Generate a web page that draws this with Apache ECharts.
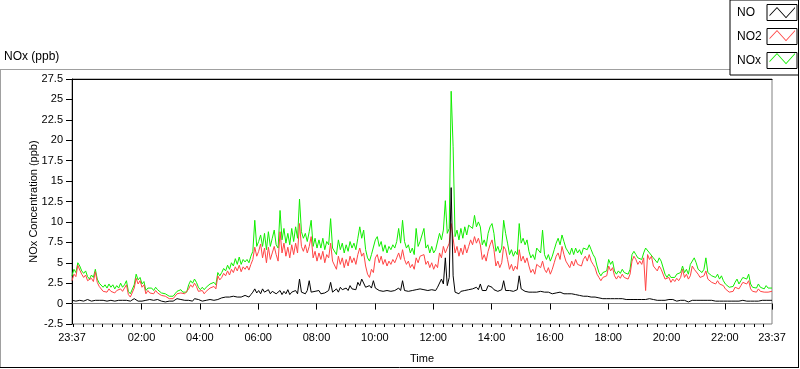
<!DOCTYPE html>
<html><head><meta charset="utf-8">
<script src="https://cdn.jsdelivr.net/npm/echarts@6/dist/echarts.min.js"></script>
<style>html,body{margin:0;padding:0;background:#fff}#c{width:800px;height:369px}</style>
</head><body><div id="c"></div>
<script>
// ---- data (sampled every 4 minutes from 23:37 to 23:37 next day) ----
const startTime = '23:37';
const spanMinutes = 1440;
const sampleStepMin = 4;
const seriesNames = ['NO', 'NO2', 'NOx'];
const tickLabels = ['23:37','02:00','04:00','06:00','08:00','10:00','12:00','14:00','16:00','18:00','20:00','22:00','23:37'];
const yTicks = { min: -2.5, max: 27.5, step: 2.5 };

const noValues = [
0.4,0.5,0.3,0.5,0.4,0.5,0.3,0.4,0.5,0.4,0.3,0.5,0.4,0.5,0.4,
0.5,0.4,0.5,0.3,0.5,0.4,0.5,0.3,0.5,0.4,0.6,0.4,0.5,0.4,0.3,
0.3,0.5,0.6,0.4,0.3,0.5,0.3,0.2,0.4,0.3,0.5,0.3,0.4,0.3,0.5,
0.4,0.3,0.5,0.2,0.4,0.3,0.5,0.3,0.4,0.6,0.4,0.5,0.3,0.4,0.5,
0.4,0.5,0.3,0.6,0.4,0.5,0.4,0.3,0.5,0.4,0.3,0.5,0.6,0.4,0.5,
0.5,0.6,0.7,0.6,0.8,0.6,0.8,0.7,0.9,0.7,0.8,1.0,0.8,0.9,1.0,
1.0,0.8,1.1,1.4,1.8,1.3,1.6,1.2,1.8,1.4,1.3,1.7,1.2,1.5,1.4,
1.2,1.0,1.6,1.1,1.5,1.2,1.7,1.1,1.4,1.3,1.6,1.2,3.0,1.4,1.3,
1.2,1.6,2.8,1.4,1.2,1.5,1.3,1.6,1.2,1.4,1.3,1.5,1.6,2.6,1.4,
1.6,1.8,1.4,2.0,1.7,1.5,1.9,1.6,2.2,1.8,2.0,1.7,2.6,2.2,3.0,
3.2,2.0,1.8,2.2,1.9,2.8,1.9,2.1,1.6,1.8,1.5,1.7,1.6,1.8,1.5,
1.7,1.6,1.8,1.9,1.6,2.8,1.6,1.8,1.5,1.7,1.6,1.8,1.7,1.6,1.8,
1.8,1.7,1.9,1.6,1.8,1.7,1.9,1.6,2.0,2.2,3.0,2.4,5.6,2.2,3.2,
14.2,3.4,1.4,1.6,1.2,1.5,1.3,1.6,1.4,1.7,1.5,1.8,1.6,2.0,1.7,
2.4,1.6,1.8,1.6,2.2,2.4,2.0,1.7,1.6,1.5,1.6,1.7,2.8,1.6,1.7,
1.6,1.7,1.5,1.6,1.7,3.4,1.8,1.6,1.5,1.6,1.4,1.6,1.4,1.5,1.4,
1.4,1.5,1.3,1.4,1.2,1.4,1.3,1.2,1.4,1.3,1.2,1.4,1.3,1.2,1.3,
1.2,1.1,1.2,1.0,1.1,1.2,1.0,1.1,0.9,1.0,0.9,1.0,0.8,0.9,0.8,
0.8,0.7,0.8,0.6,0.7,0.6,0.7,0.6,0.5,0.6,0.5,0.6,0.5,0.6,0.5,
0.5,0.6,0.5,0.6,0.5,0.6,0.5,0.7,0.5,0.6,0.5,0.4,0.6,0.5,0.5,
0.5,0.4,0.5,0.4,0.5,0.4,0.3,0.5,0.4,0.5,0.4,0.3,0.5,0.4,0.5,
0.4,0.3,0.2,0.3,0.4,0.3,0.4,0.3,0.4,0.3,0.4,0.3,0.4,0.3,0.4,
0.4,0.3,0.4,0.3,0.4,0.3,0.4,0.3,0.4,0.3,0.4,0.3,0.4,0.3,0.4,
0.4,0.5,0.3,0.4,0.3,0.4,0.3,0.4,0.3,0.4,0.4,0.3,0.4,0.3,0.4,
0.4];

const no2Values = [
2.8,3.6,3.3,4.7,4.1,3.6,3.2,3.5,2.8,2.6,3.1,2.7,3.9,2.6,2.1,
1.9,1.5,1.7,1.4,1.8,1.5,1.7,1.3,1.6,1.4,1.8,1.5,1.7,2.3,1.1,
0.8,1.0,1.9,3.1,2.4,2.8,2.0,2.3,1.2,1.6,1.3,1.5,1.2,1.6,1.3,
1.3,1.0,0.8,0.9,0.7,0.6,0.8,0.6,0.9,1.2,1.0,1.3,1.1,1.2,1.0,
1.8,2.3,2.0,2.5,2.1,1.5,1.3,1.6,1.2,1.5,1.4,1.9,1.7,2.1,1.8,
3.4,2.9,3.2,3.7,3.4,4.0,3.5,4.2,3.8,4.5,4.0,4.7,3.9,4.5,4.2,
4.6,4.1,4.8,5.4,6.9,5.8,6.4,7.3,5.6,6.8,5.0,6.9,5.4,6.2,7.0,
6.0,5.2,8.8,6.2,7.4,5.8,6.9,5.6,7.2,6.0,7.4,6.2,9.8,7.0,6.4,
7.2,6.2,7.0,8.2,5.6,6.4,5.2,6.2,5.4,6.4,5.0,6.0,5.6,7.4,5.2,
5.2,4.2,5.8,4.8,5.6,4.4,5.4,4.6,5.8,5.0,5.6,4.8,6.0,6.8,5.8,
6.2,4.6,3.6,3.2,4.2,3.8,5.6,6.0,5.0,5.8,4.8,5.4,4.6,5.2,4.8,
5.4,5.0,5.6,6.2,5.4,6.6,5.4,4.8,5.2,4.4,4.8,4.2,5.6,5.0,5.8,
5.8,6.0,4.8,5.2,4.4,5.0,4.2,4.8,4.4,6.2,5.6,7.0,6.2,6.8,7.4,
9.8,8.0,6.2,7.0,5.8,6.8,6.0,7.2,6.2,7.0,7.8,7.2,8.2,7.4,8.0,
7.2,5.4,6.0,5.2,6.4,7.2,7.8,6.6,4.6,5.2,4.4,5.0,7.0,6.6,5.4,
4.2,4.8,4.0,4.6,4.2,6.6,5.2,5.8,5.0,5.6,4.6,3.8,4.2,3.6,4.8,
5.0,4.4,5.2,4.2,3.8,4.4,3.6,4.2,5.0,5.8,6.2,5.4,7.0,6.0,5.2,
5.0,4.4,5.2,4.6,5.4,4.8,5.0,4.6,5.4,5.8,5.2,6.0,5.2,4.8,4.4,
3.6,3.2,2.8,3.2,3.0,3.4,4.6,4.0,4.4,3.4,3.0,3.4,3.1,3.6,3.2,
3.4,3.0,3.6,5.2,5.8,5.4,4.8,5.2,4.8,5.6,1.6,6.0,5.4,5.8,4.6,
4.4,4.0,4.6,4.2,4.4,3.0,2.8,3.2,2.6,3.0,2.7,3.1,2.8,3.2,4.2,
3.2,3.6,3.0,3.4,4.6,4.2,4.4,3.6,3.2,3.0,3.4,4.0,3.0,3.2,2.6,
2.8,2.4,2.8,2.4,2.6,2.2,1.8,1.6,1.4,1.6,1.5,2.0,2.2,1.8,2.2,
2.6,2.8,2.4,2.8,1.8,1.5,1.7,1.4,1.8,1.5,1.6,1.4,1.6,1.4,1.5,
1.5];

const noxValues = [
3.4,4.2,3.8,5.0,4.6,4.0,3.7,4.0,3.3,3.0,3.5,3.2,4.2,3.0,2.5,
2.5,2.0,2.3,1.9,2.4,2.0,2.3,1.8,2.2,1.9,2.5,2.0,2.3,2.8,1.5,
1.2,1.4,2.3,3.6,2.9,3.2,2.4,2.7,1.6,1.9,1.7,1.9,1.6,2.0,1.7,
1.6,1.3,1.1,1.2,1.0,0.9,1.1,0.9,1.2,1.5,1.4,1.7,1.4,1.6,1.4,
2.3,2.8,2.5,3.0,2.6,2.0,1.7,2.0,1.7,2.0,1.9,2.4,2.2,2.6,2.3,
3.8,3.4,3.8,4.3,4.0,4.7,4.2,5.0,4.6,5.5,4.8,5.7,4.8,5.4,5.1,
5.4,5.0,5.8,6.4,10.2,7.0,7.6,8.4,7.0,8.6,6.6,8.8,7.0,8.0,9.0,
7.2,6.8,11.4,7.8,9.2,7.4,8.6,7.2,9.2,7.6,9.4,8.0,12.8,8.8,8.0,
8.6,7.6,8.8,10.2,7.0,8.0,6.8,7.8,6.8,8.0,6.6,7.6,7.2,10.4,6.8,
7.0,6.0,7.8,6.6,7.4,6.2,7.2,6.4,7.6,6.8,7.4,6.6,8.0,9.4,8.0,
9.0,6.6,5.6,5.2,6.0,5.8,7.8,8.2,7.0,7.6,6.4,7.2,6.2,7.0,6.6,
7.2,6.8,7.6,9.2,7.4,10.2,7.6,6.8,7.2,6.2,6.8,6.0,9.2,7.0,7.6,
7.4,9.2,6.8,7.2,6.2,7.0,6.2,6.6,6.4,8.6,7.8,9.0,12.6,8.6,9.2,
26.0,19.2,8.2,9.0,7.8,9.2,8.0,9.4,8.4,9.6,9.8,9.2,10.8,9.4,10.0,
9.4,7.2,7.8,7.0,8.6,9.4,9.8,8.6,6.4,7.0,6.2,6.8,10.2,8.6,7.4,
6.0,6.6,5.8,6.4,6.0,9.8,7.4,8.0,7.2,7.8,6.4,5.6,6.0,5.4,6.8,
7.0,6.2,9.0,6.0,5.4,6.0,5.2,5.8,6.6,7.4,8.0,7.2,8.4,7.6,6.8,
6.4,6.0,6.8,6.0,6.8,6.2,6.6,6.0,6.8,7.0,6.6,7.2,6.6,6.0,5.6,
4.6,3.8,3.4,3.8,3.6,4.0,5.4,4.8,5.2,4.0,3.6,4.0,3.7,4.2,3.8,
4.0,3.6,4.2,6.0,6.4,6.0,5.6,5.8,5.4,6.2,6.8,6.6,6.2,6.4,5.6,
5.4,5.0,5.6,5.2,5.4,3.6,3.2,3.6,3.2,3.4,3.2,3.6,3.4,3.8,4.6,
3.8,4.2,3.6,4.8,5.0,5.6,5.0,4.2,4.0,3.8,4.2,5.6,3.8,3.8,3.4,
3.4,3.2,3.6,3.0,3.4,2.8,2.4,2.2,2.0,2.2,2.1,2.6,3.0,2.4,2.8,
3.2,3.4,3.0,3.6,2.4,2.0,2.2,1.9,2.4,2.0,2.1,1.8,2.2,1.9,2.0,
1.9];

// ---- build category axis (one category per minute) ----
const pad = n => (n < 10 ? '0' : '') + n;
const startMin = parseInt(startTime.slice(0,2)) * 60 + parseInt(startTime.slice(3));
const cats = [];
for (let i = 0; i <= spanMinutes; i++) {
  const t = (startMin + i) % 1440;
  cats.push(pad(Math.floor(t / 60)) + ':' + pad(t % 60));
}
const labelSet = new Set(tickLabels);
const isMajor = (idx, val) => labelSet.has(val);
const isMinor = (idx, val) => (parseInt(val.slice(3)) % 20 === 0);
const toPairs = arr => arr.map((v, i) => [i * sampleStepMin, v]);

const FONT = 'Liberation Sans';
const colors = { NO: '#000000', NO2: '#ff4444', NOx: '#11ee00' };
const zigzag = 'path://M0 0h0.01v0.01h-0.01Z M30 16h-0.01v-0.01h0.01Z M2.5 11 L10 3 L19 13 L28 3 L28 4.3 L19 14.3 L10 4.3 L2.5 12.3Z';

const legendBase = {
  orient: 'vertical', left: 730, top: 0, padding: [4, 1, 6, 7],
  itemWidth: 30, itemHeight: 16, itemGap: 7, align: 'right',
  selectedMode: false, data: seriesNames,
  formatter: name => '{t|' + name + '}'
};

const chart = echarts.init(document.getElementById('c'), null, { renderer: 'canvas' });
chart.setOption({
  animation: false,
  backgroundColor: '#ffffff',
  title: {
    text: 'NOx (ppb)', left: 4, top: 51, padding: 0,
    textStyle: { fontFamily: FONT, fontSize: 12, fontWeight: 'normal', color: '#000' }
  },
  legend: [
    Object.assign({}, legendBase, {
      icon: 'rect', backgroundColor: '#fff', borderColor: '#000', borderWidth: 1,
      itemStyle: { color: '#ffffff', borderColor: '#000000', borderWidth: 1 },
      textStyle: { fontFamily: FONT, fontSize: 12, color: '#000',
        rich: { t: { width: 25, align: 'left', fontFamily: FONT, fontSize: 12, color: '#000' } } }
    }),
    Object.assign({}, legendBase, {
      icon: zigzag, backgroundColor: 'transparent', borderWidth: 0, z: 10,
      itemStyle: { borderWidth: 0 },
      textStyle: { fontFamily: FONT, fontSize: 12, color: 'rgba(0,0,0,0)',
        rich: { t: { width: 25, align: 'left', fontFamily: FONT, fontSize: 12, color: 'rgba(0,0,0,0)' } } }
    })
  ],
  grid: { left: 72, right: 28, top: 79, bottom: 39, show: true, borderColor: '#808080', borderWidth: 1, containLabel: false },
  xAxis: [
    {
      type: 'category', data: cats, boundaryGap: false, position: 'bottom',
      axisLine: { show: true, lineStyle: { color: '#808080', width: 1 } },
      axisTick: { show: true, interval: isMajor, length: 6, lineStyle: { color: '#000' } },
      axisLabel: { interval: isMajor, color: '#000', fontFamily: FONT, fontSize: 11, margin: 8 },
      splitLine: { show: false },
      name: 'Time', nameLocation: 'middle', nameGap: 29, nameMoveOverlap: false,
      nameTextStyle: { fontFamily: FONT, fontSize: 11, color: '#000' }
    },
    {
      type: 'category', data: cats, boundaryGap: false, position: 'bottom',
      axisLine: { show: false },
      axisTick: { show: true, interval: isMinor, length: 3, lineStyle: { color: '#000' } },
      axisLabel: { show: false }, splitLine: { show: false }
    },
    {
      type: 'category', data: cats, boundaryGap: false, position: 'top',
      axisLine: { show: true, lineStyle: { color: '#000', width: 1 } },
      axisTick: { show: false }, axisLabel: { show: false }, splitLine: { show: false }
    }
  ],
  yAxis: {
    type: 'value', min: yTicks.min, max: yTicks.max, interval: yTicks.step,
    axisLine: { show: true, lineStyle: { color: '#000' } },
    axisTick: { show: true, length: 6, lineStyle: { color: '#000' } },
    axisLabel: { color: '#000', fontFamily: FONT, fontSize: 11, margin: 9 },
    splitLine: { show: false },
    name: 'NOx Concentration (ppb)', nameLocation: 'middle', nameGap: 33, nameMoveOverlap: false,
    nameTextStyle: { fontFamily: FONT, fontSize: 11, color: '#000' }
  },
  graphic: [
    { type: 'line', shape: { x1: 0, y1: 69.5, x2: 730, y2: 69.5 }, style: { stroke: '#a0a0a0', lineWidth: 1 }, silent: true },
    { type: 'line', shape: { x1: 0.5, y1: 69, x2: 0.5, y2: 368 }, style: { stroke: '#a0a0a0', lineWidth: 1 }, silent: true },
    { type: 'line', shape: { x1: 0, y1: 367.5, x2: 799, y2: 367.5 }, style: { stroke: '#000', lineWidth: 1 }, silent: true },
    { type: 'line', shape: { x1: 798.5, y1: 72, x2: 798.5, y2: 368 }, style: { stroke: '#000', lineWidth: 1 }, silent: true }
  ],
  series: [
    { name: 'NOx', type: 'line', data: toPairs(noxValues), showSymbol: false, symbol: 'none',
      lineStyle: { color: colors.NOx, width: 1 }, itemStyle: { color: colors.NOx } },
    { name: 'NO2', type: 'line', data: toPairs(no2Values), showSymbol: false, symbol: 'none',
      lineStyle: { color: colors.NO2, width: 1 }, itemStyle: { color: colors.NO2 } },
    { name: 'NO', type: 'line', data: toPairs(noValues), showSymbol: false, symbol: 'none',
      lineStyle: { color: colors.NO, width: 1 }, itemStyle: { color: colors.NO } }
  ]
});
</script>
</body></html>
